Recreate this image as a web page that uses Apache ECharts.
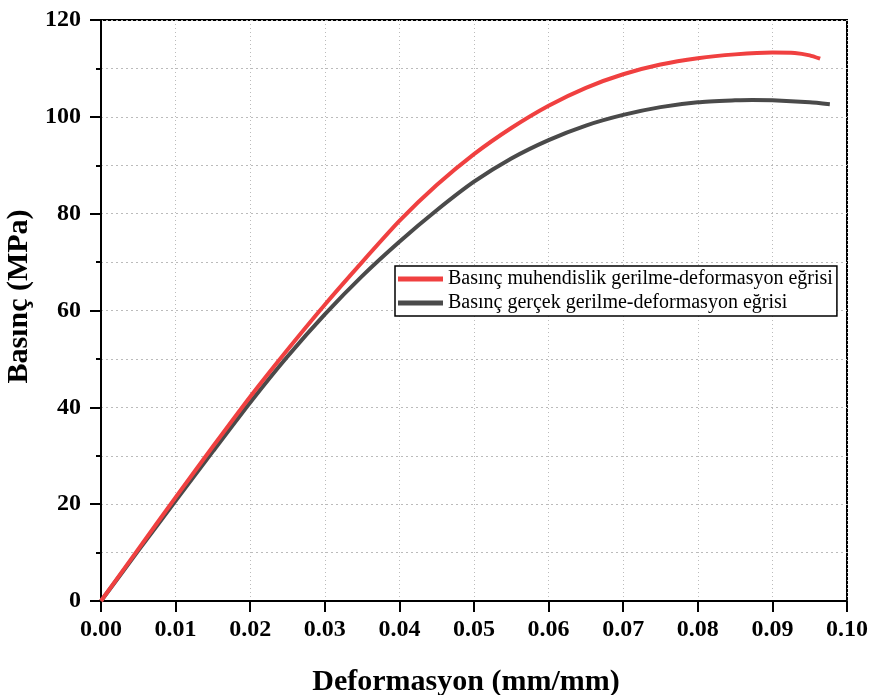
<!DOCTYPE html>
<html>
<head>
<meta charset="utf-8">
<script src="https://cdn.jsdelivr.net/npm/echarts@6/dist/echarts.min.js"></script>
<style>html,body{margin:0;padding:0;background:#fff}#c{width:879px;height:695px}</style>
</head>
<body>
<div id="c"></div>
<script>
var seriesNames = ['Basınç muhendislik gerilme-deformasyon eğrisi', 'Basınç gerçek gerilme-deformasyon eğrisi'];
var xTickLabels = ['0.00','0.01','0.02','0.03','0.04','0.05','0.06','0.07','0.08','0.09','0.10'];
var yTickLabels = ['0','20','40','60','80','100','120'];
var engStrain = [0, 0.005, 0.01, 0.015, 0.02, 0.025, 0.03, 0.035, 0.04, 0.045, 0.05, 0.055, 0.06, 0.065, 0.07, 0.075, 0.08, 0.085, 0.09, 0.093, 0.095, 0.0964];
var engStress = [0, 10.7, 21.4, 31.9, 42.2, 51.9, 61.2, 70.0, 78.5, 85.9, 92.3, 97.7, 102.3, 106.0, 108.8, 110.8, 112.1, 112.9, 113.3, 113.2, 112.7, 112.0];
var trueStrain = [0, 0.005, 0.01, 0.015, 0.02, 0.025, 0.03, 0.035, 0.04, 0.045, 0.05, 0.055, 0.06, 0.065, 0.07, 0.075, 0.08, 0.085, 0.0873, 0.09, 0.095, 0.0977];
var trueStress = [0, 10.4, 20.7, 30.9, 41.0, 50.5, 59.2, 67.1, 74.2, 80.7, 86.6, 91.4, 95.2, 98.2, 100.4, 102.0, 103.0, 103.4, 103.5, 103.4, 103.0, 102.6];

function zip(a, b) { return a.map(function (v, i) { return [v, b[i]]; }); }

var font = '"Liberation Serif", "Times New Roman", serif';
var chart = echarts.init(document.getElementById('c'), null, {renderer: 'canvas'});
chart.setOption({
  animation: false,
  backgroundColor: '#fff',
  grid: {left: 101, right: 32, top: 20, bottom: 94, show: true, borderColor: '#000', borderWidth: 2,
    backgroundColor: 'transparent', containLabel: false, outerBoundsMode: 'none'},
  legend: {
    orient: 'vertical', left: 395, top: 266,
    data: seriesNames,
    icon: 'rect',
    itemWidth: 45, itemHeight: 5, itemGap: 4,
    padding: [3, 4, 3, 3],
    borderColor: '#000', borderWidth: 1.5, backgroundColor: '#fff',
    textStyle: {fontFamily: font, fontSize: 20, color: '#000'}
  },
  xAxis: {
    type: 'value', min: 0, max: 0.1, interval: 0.01,
    name: 'Deformasyon (mm/mm)', nameLocation: 'middle', nameGap: 66,
    nameTextStyle: {fontFamily: font, fontSize: 30, fontWeight: 'bold', color: '#000', padding: [0, 16, 0, 0]},
    axisLine: {show: true, onZero: false, lineStyle: {color: '#000', width: 2}},
    axisTick: {show: true, length: 11, lineStyle: {color: '#000', width: 2}},
    axisLabel: {margin: 17, fontFamily: font, fontSize: 24, fontWeight: 'bold', color: '#000',
      formatter: function (v) { return xTickLabels[Math.round(v / 0.01)]; }},
    splitLine: {show: true, lineStyle: {color: '#bbb', width: 1, type: [1, 3]}}
  },
  yAxis: {
    type: 'value', min: 0, max: 120, interval: 20,
    name: 'Basınç (MPa)', nameLocation: 'middle', nameGap: 61,
    nameTextStyle: {fontFamily: font, fontSize: 30, fontWeight: 'bold', color: '#000', padding: [0, 0, 0, 28]},
    axisLine: {show: true, onZero: false, lineStyle: {color: '#000', width: 2}},
    axisTick: {show: true, length: 11, lineStyle: {color: '#000', width: 2}},
    minorTick: {show: true, splitNumber: 2, length: 5, lineStyle: {color: '#000', width: 2}},
    axisLabel: {margin: 20, fontFamily: font, fontSize: 24, fontWeight: 'bold', color: '#000',
      formatter: function (v) { return yTickLabels[Math.round(v / 20)]; }},
    splitLine: {show: true, lineStyle: {color: '#bbb', width: 1, type: [2, 3]}},
    minorSplitLine: {show: true, lineStyle: {color: '#bbb', width: 1, type: [2, 3]}}
  },
  series: [
    {name: seriesNames[0], type: 'line', data: zip(engStrain, engStress), smooth: 0.2, symbol: 'none',
     lineStyle: {color: '#f04040', width: 4}, itemStyle: {color: '#f04040'}, z: 3},
    {name: seriesNames[1], type: 'line', data: zip(trueStrain, trueStress), smooth: 0.2, symbol: 'none',
     lineStyle: {color: '#4a4a4a', width: 4}, itemStyle: {color: '#4a4a4a'}, z: 2}
  ]
});
</script>
</body>
</html>
